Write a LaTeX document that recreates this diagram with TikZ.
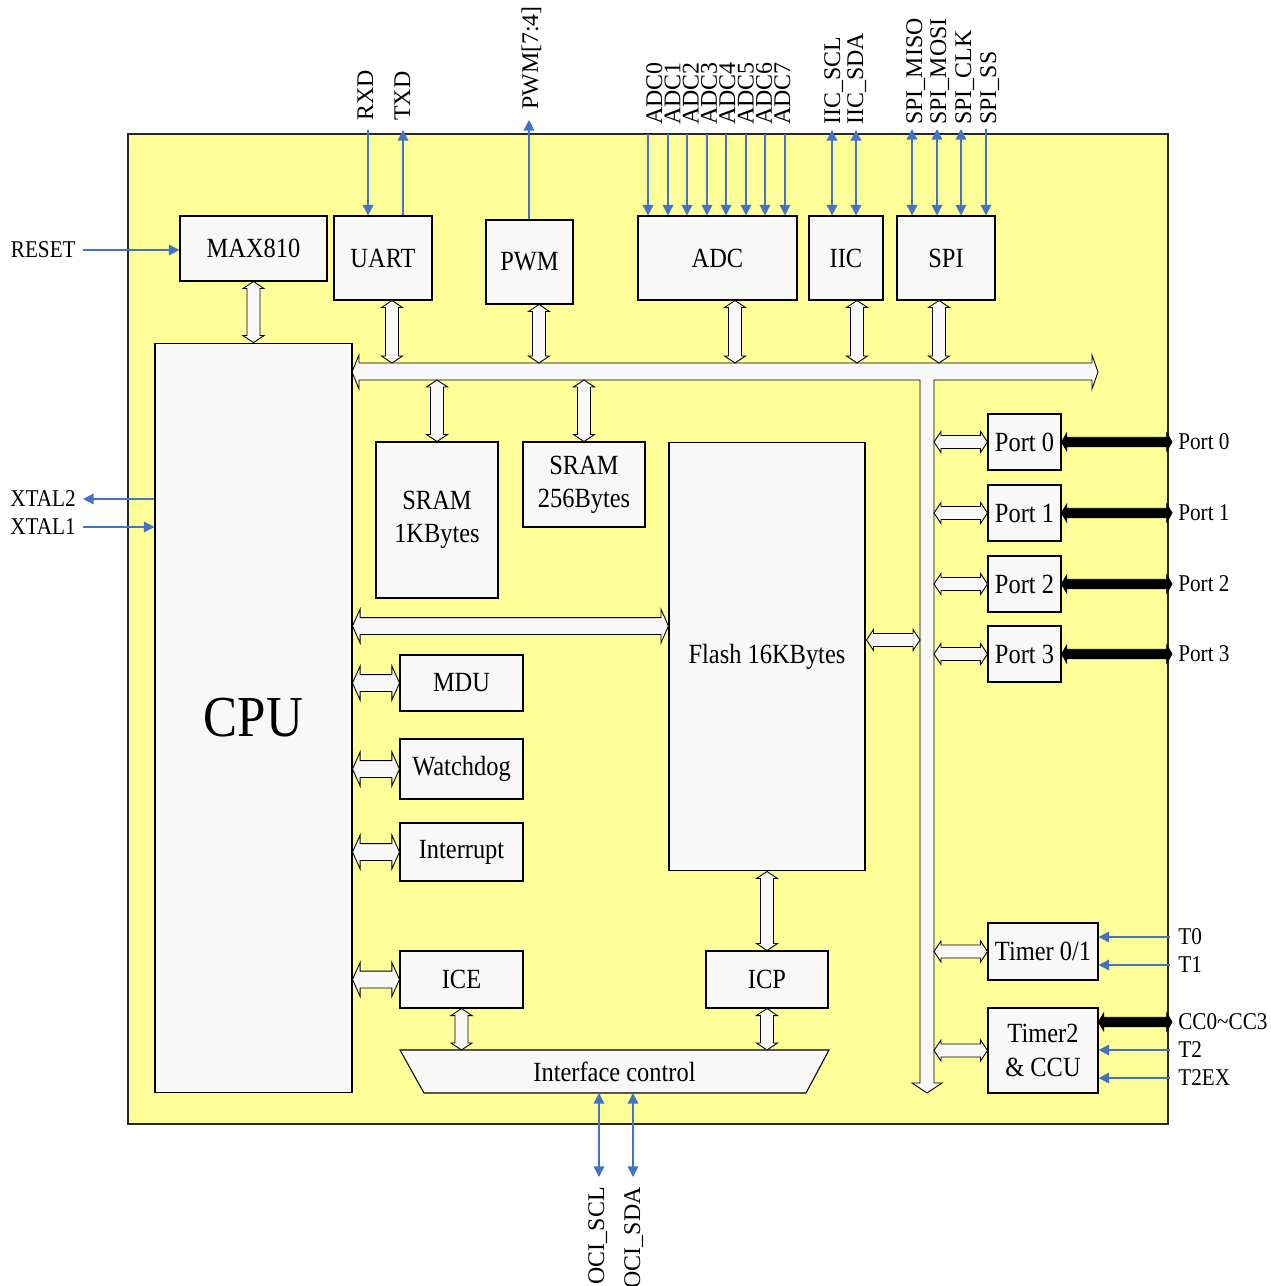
\documentclass[tikz,border=0pt]{standalone}
\usepackage{fontspec}
\setmainfont{Liberation Serif}[FakeStretch=0.88]
\newfontfamily\sigfont{Liberation Serif}
\usetikzlibrary{calc,arrows.meta}
\definecolor{chip}{HTML}{FFFF99}
\definecolor{boxbg}{HTML}{F8F8F8}
\definecolor{wire}{HTML}{4472C4}
\tikzset{
  frame/.style={draw=black!85, fill=chip, line width=0.6pt},
  blk/.style={draw=black, fill=boxbg, line width=0.6pt, inner sep=0pt, align=center,
    font=\fontsize{15.8}{19}\selectfont},
  hollow/.style n args={3}{draw=black, fill=boxbg, line width=0.5pt, line join=miter,
    to path={let \p1=(\tikztostart), \p2=(\tikztotarget),
      \p3=($(\p1)!#3!(\p2)$), \p4=($(\p2)!#3!(\p1)$) in
      -- ($(\p3)!#2!90:(\p2)$) -- ($(\p3)!#1!90:(\p2)$)
      -- ($(\p4)!#1!-90:(\p1)$) -- ($(\p4)!#2!-90:(\p1)$) -- (\p2)
      -- ($(\p4)!#2!90:(\p1)$) -- ($(\p4)!#1!90:(\p1)$)
      -- ($(\p3)!#1!-90:(\p2)$) -- ($(\p3)!#2!-90:(\p2)$) -- cycle}},
  narrow/.style={hollow={3.7pt}{6pt}{4pt}},
  wide/.style={hollow={4.8pt}{9.6pt}{4.3pt}},
  fat/.style={hollow={2.7pt}{5.1pt}{3pt}, fill=black},
  bus/.style={draw=black, fill=boxbg, line width=0.5pt, line join=miter},
  sig/.style={draw=wire, line width=0.8pt, -{Triangle[length=6pt,width=6pt]}},
  sigb/.style={draw=wire, line width=0.8pt, {Triangle[length=6pt,width=6pt]}-{Triangle[length=6pt,width=6pt]}},
  side/.style={inner sep=0pt, font=\fontsize{13.7}{15}\selectfont},
  vlab/.style={inner sep=0pt, rotate=90, anchor=base west, font=\sigfont\fontsize{13.6}{15}\selectfont},
}

\begin{document}
\begin{tikzpicture}[x=0.02cm, y=-0.02cm]
  \useasboundingbox (0,0) rectangle (1271,1286);
  \draw[frame] (128,134) rectangle (1168,1124);

  % internal bus
  \draw[bus] (352,372) -- (359,355) -- (359,363) -- (1092,363) -- (1092,355) -- (1098,372)
    -- (1092,389) -- (1092,380) -- (934,380) -- (934,1083) -- (942,1083) -- (927,1093)
    -- (912,1083) -- (920,1083) -- (920,380) -- (359,380) -- (359,389) -- cycle;
  \coordinate (bustop) at (0,363);
  \coordinate (busbot) at (0,380);
  \coordinate (busl) at (920,0);
  \coordinate (busr) at (934,0);
  \coordinate (edge) at (1172,0);

  % blocks
  \node[blk, minimum width=2.94cm, minimum height=1.30cm] (max) at (253.5,248.5) {MAX810};
  \node[blk, minimum width=1.96cm, minimum height=1.68cm] (uart) at (383,258) {UART};
  \node[blk, minimum width=1.74cm, minimum height=1.68cm] (pwm) at (529.5,262) {PWM};
  \node[blk, minimum width=3.18cm, minimum height=1.68cm] (adc) at (717.5,258) {ADC};
  \node[blk, minimum width=1.48cm, minimum height=1.68cm] (iic) at (846,258) {IIC};
  \node[blk, minimum width=1.96cm, minimum height=1.68cm] (spi) at (946,258) {SPI};
  \node[blk, minimum width=3.94cm, minimum height=15cm, font=\fontsize{33}{36}\selectfont] (cpu) at (253.5,718) {CPU};
  \node[blk, minimum width=2.44cm, minimum height=3.12cm] (sram) at (437,520) {SRAM\\1KBytes};
  \node[blk, minimum width=2.44cm, minimum height=1.70cm] (iram) at (584,484.5) {SRAM\\256Bytes};
  \node[blk, minimum width=3.92cm, minimum height=8.58cm] (flash) at (767,656.5) {Flash 16KBytes};
  \node[blk, minimum width=2.46cm, minimum height=1.12cm] (mdu) at (461.5,683) {MDU};
  \node[blk, minimum width=2.46cm, minimum height=1.20cm] (wdt) at (461.5,769) {Watchdog};
  \node[blk, minimum width=2.46cm, minimum height=1.16cm] (intr) at (461.5,852) {Interrupt};
  \node[blk, minimum width=2.46cm, minimum height=1.14cm] (ice) at (461.5,979.5) {ICE};
  \node[blk, minimum width=2.44cm, minimum height=1.14cm] (icp) at (767,979.5) {ICP};
  \node[blk, minimum width=2.20cm, minimum height=1.14cm] (tmr01) at (1043,951.5) {Timer 0/1};
  \node[blk, minimum width=2.20cm, minimum height=1.70cm] (tmr2) at (1043,1050.5) {Timer2\\\& CCU};
  \draw[blk] (400,1050) -- (829,1050) -- (806,1093) -- (424,1093) -- cycle;
  \node[font=\fontsize{15.8}{19}\selectfont, inner sep=0pt] (ifc) at (614.5,1072) {Interface control};
  \coordinate (ifctop) at (0,1050);
  \coordinate (ifcbot) at (0,1093);

  % ports
  \foreach \i/\y in {0/442,1/513,2/584,3/654} {
    \node[blk, minimum width=1.46cm, minimum height=1.12cm] (port\i) at (1024.5,\y) {Port \i};
    \draw[narrow] (port\i.west -| busr) to (port\i.west);
    \draw[fat] (port\i.east) to (port\i.east -| edge);
    \node[side, anchor=west] (pl\i) at (1178,\y) {Port \i};
  }

  % hollow links
  \path (uart.south) ++(9,0) coordinate (uartp);
  \path (pwm.south) ++(9.5,0) coordinate (pwmp);
  \path (adc.south) ++(17.5,0) coordinate (adcp);
  \path (iic.south) ++(11,0) coordinate (iicp);
  \path (spi.south) ++(-7,0) coordinate (spip);
  \path (cpu.east |- flash.west) ++(0,-30.5) coordinate (cfl);
  \path (flash.east) ++(1,-16.5) coordinate (fbus);
  \draw[narrow] (max.south) to (cpu.north -| max.south);
  \draw[narrow] (uartp) to (uartp |- bustop);
  \draw[narrow] (pwmp) to (pwmp |- bustop);
  \draw[narrow] (adcp) to (adcp |- bustop);
  \draw[narrow] (iicp) to (iicp |- bustop);
  \draw[narrow] (spip) to (spip |- bustop);
  \draw[narrow] (sram.north |- busbot) to (sram.north);
  \draw[narrow] (iram.north |- busbot) to (iram.north);
  \draw[wide] (cfl) to (cfl -| flash.west);
  \draw[narrow] (fbus) to (fbus -| busl);
  \foreach \b in {mdu,wdt,intr,ice}
    \draw[wide] (\b.west -| cpu.east) to (\b.west);
  \draw[narrow] (flash.south) to (icp.north);
  \draw[narrow] (ice.south) to (ice.south |- ifctop);
  \draw[narrow] (icp.south) to (icp.south |- ifctop);
  \draw[narrow] (tmr01.west -| busr) to (tmr01.west);
  \draw[narrow] (tmr2.west -| busr) to (tmr2.west);
  \path (tmr2.east) ++(0,-28.5) coordinate (ccp);
  \draw[fat] (ccp) to (ccp -| edge);

  % outside signals, left
  \coordinate (rst) at (83,250);
  \coordinate (xt2) at (83,499);
  \coordinate (xt1) at (83,527);
  \draw[sig] (rst) -- (max.west |- rst);
  \draw[sig] (xt2 -| cpu.west) -- (xt2);
  \draw[sig] (xt1) -- (xt1 -| cpu.west);
  \node[side, anchor=east] (rstl) at (76,250) {RESET};
  \node[side, anchor=east] (xt2l) at (76,499) {XTAL2};
  \node[side, anchor=east] (xt1l) at (76,527) {XTAL1};

  % outside signals, top
  \coordinate (rxd) at (368,130);
  \coordinate (txd) at (403,130);
  \coordinate (pwmo) at (529,120);
  \draw[sig] (rxd) -- (rxd |- uart.north);
  \draw[sig] (txd |- uart.north) -- (txd);
  \draw[sig] (pwmo |- pwm.north) -- (pwmo);
  \node[vlab] (rxdl) at (373,121) {RXD};
  \node[vlab] (txdl) at (410,121) {TXD};
  \node[vlab] (pwml) at (538,110) {PWM[7:4]};
  \foreach \i/\x in {0/648,1/668,2/687,3/707,4/726,5/746,6/765,7/785} {
    \coordinate (ain\i) at (\x,134);
    \draw[sig] (ain\i) -- (ain\i |- adc.north);
    \node[vlab] (ainl\i) at ({662+18.3*\i},125) {ADC\i};
  }
  \coordinate (scl) at (832,130);
  \coordinate (sda) at (856,130);
  \draw[sigb] (scl) -- (scl |- iic.north);
  \draw[sigb] (sda) -- (sda |- iic.north);
  \node[vlab] (scll) at (840,125) {IIC\_SCL};
  \node[vlab] (sdal) at (863,125) {IIC\_SDA};
  \coordinate (miso) at (912,129);
  \coordinate (mosi) at (937,129);
  \coordinate (sclk) at (961,129);
  \coordinate (ss) at (986,129);
  \draw[sigb] (miso) -- (miso |- spi.north);
  \draw[sigb] (mosi) -- (mosi |- spi.north);
  \draw[sigb] (sclk) -- (sclk |- spi.north);
  \draw[sig] (ss) -- (ss |- spi.north);
  \node[vlab] (misol) at (922,125) {SPI\_MISO};
  \node[vlab] (mosil) at (946,125) {SPI\_MOSI};
  \node[vlab] (sclkl) at (971,125) {SPI\_CLK};
  \node[vlab] (ssl) at (996,125) {SPI\_SS};

  % outside signals, right
  \foreach \s/\y/\t in {t0/937/T0,t1/965/T1} {
    \coordinate (\s) at (1170,\y);
    \draw[sig] (\s) -- (\s -| tmr01.east);
    \node[side, anchor=west] (\s l) at (1178,\y) {\t};
  }
  \foreach \s/\y/\t in {t2/1050/T2,t2ex/1078/T2EX} {
    \coordinate (\s) at (1170,\y);
    \draw[sig] (\s) -- (\s -| tmr2.east);
    \node[side, anchor=west] (\s l) at (1178,\y) {\t};
  }
  \node[side, anchor=west] (ccl) at (1178,1022) {CC0\textasciitilde CC3};

  % outside signals, bottom
  \coordinate (ocl) at (599,1177);
  \coordinate (oda) at (633,1177);
  \draw[sigb] (ocl |- ifcbot) -- (ocl);
  \draw[sigb] (oda |- ifcbot) -- (oda);
  \node[vlab, anchor=base east] (ocll) at (604,1187) {OCI\_SCL};
  \node[vlab, anchor=base east] (odal) at (640,1187) {OCI\_SDA};
\end{tikzpicture}
\end{document}
